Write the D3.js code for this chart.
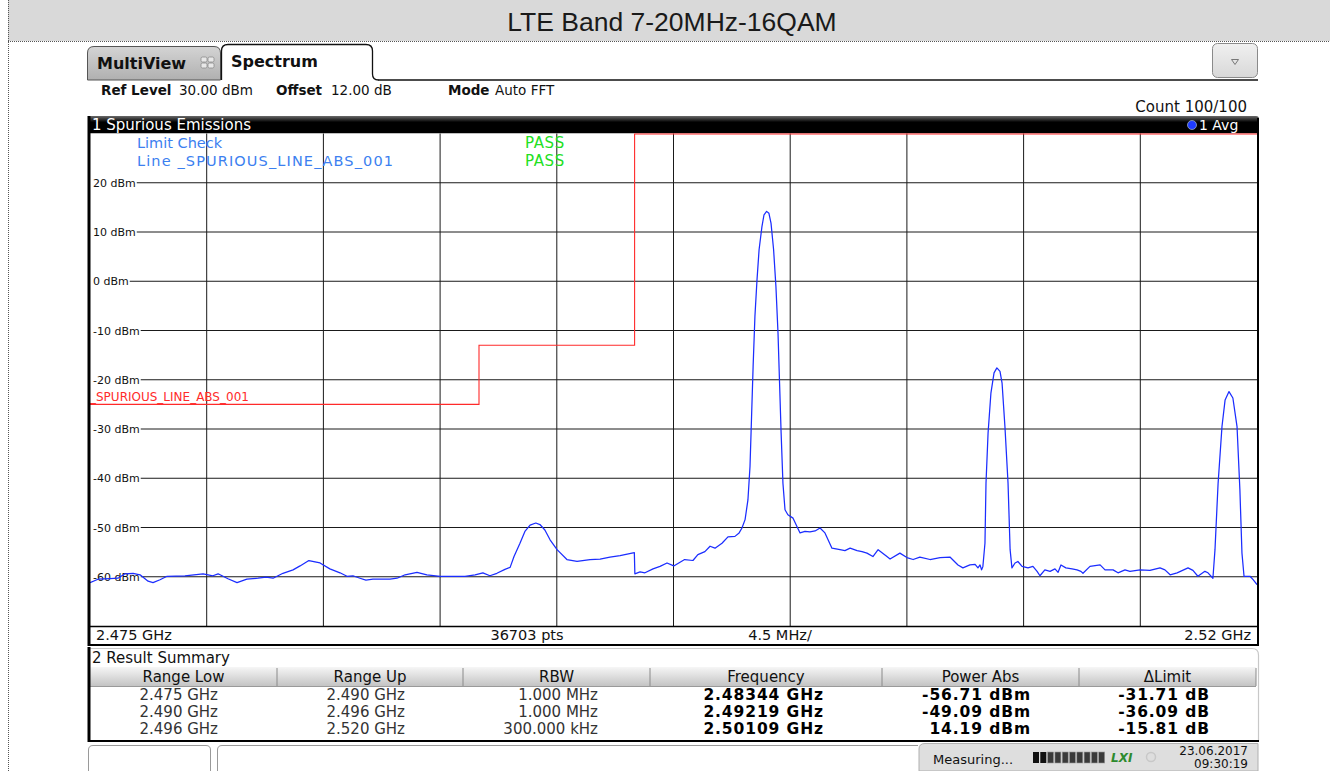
<!DOCTYPE html>
<html>
<head>
<meta charset="utf-8">
<script src="https://cdn.jsdelivr.net/npm/d3@7"></script>
<style>
  html, body { margin: 0; padding: 0; background: #ffffff; }
  svg { display: block; }
  text { font-family: "DejaVu Sans", Verdana, sans-serif; }
</style>
</head>
<body>
<svg id="chart" width="1330" height="771"></svg>
<script>
// ---- Sweep setup ----
const startMHz = 2475;
const stopMHz = 2520;
const refLevel = 30;        // dBm, top of the display
const bottomLevel = -70;    // dBm, bottom of the display
const levelTicks = [20, 10, 0, -10, -20, -30, -40, -50, -60];
const freqDivisions = [2479.5, 2484, 2488.5, 2493, 2497.5, 2502, 2506.5, 2511, 2515.5];

// ---- Trace 1 (average), frequency in MHz, level in dBm ----
const traceFreq = [
  2475.00,2475.31,2475.77,2476.08,2476.35,2476.66,2476.93,2477.24,2477.43,2477.70,
  2477.97,2478.66,2479.36,2479.74,2479.94,2480.32,2480.67,2481.05,2481.48,2481.79,
  2482.06,2482.44,2482.83,2483.10,2483.44,2483.87,2484.25,2484.64,2484.91,2485.14,
  2485.41,2485.64,2485.91,2486.57,2486.84,2487.15,2487.61,2487.99,2488.50,2489.46,
  2489.85,2490.15,2490.42,2490.69,2491.00,2491.20,2491.35,2491.58,2491.77,2491.97,
  2492.19,2492.35,2492.54,2492.74,2493.01,2493.39,2493.78,2494.28,2494.67,2495.05,
  2495.44,2495.99,2496.01,2496.21,2496.40,2496.71,2496.98,2497.25,2497.51,2497.93,
  2498.25,2498.44,2498.71,2498.91,2499.10,2499.37,2499.60,2499.87,2500.03,2500.14,
  2500.26,2500.37,2500.45,2500.51,2500.57,2500.64,2500.72,2500.80,2500.91,2500.99,
  2501.09,2501.18,2501.26,2501.36,2501.45,2501.53,2501.59,2501.65,2501.72,2501.80,
  2501.91,2502.11,2502.26,2502.38,2502.57,2502.76,2502.96,2503.15,2503.34,2503.46,
  2503.61,2503.92,2504.11,2504.31,2504.58,2504.77,2504.96,2505.19,2505.39,2505.73,
  2505.85,2506.23,2506.50,2506.74,2507.00,2507.39,2507.78,2508.16,2508.47,2508.66,
  2508.93,2509.13,2509.24,2509.32,2509.38,2509.43,2509.51,2509.55,2509.63,2509.74,
  2509.86,2509.97,2510.09,2510.17,2510.28,2510.40,2510.48,2510.55,2510.67,2510.78,
  2510.94,2511.17,2511.36,2511.52,2511.63,2511.82,2512.02,2512.21,2512.33,2512.44,
  2512.63,2512.87,2513.06,2513.21,2513.29,2513.56,2513.95,2514.14,2514.45,2514.64,
  2514.91,2515.10,2515.49,2515.87,2516.26,2516.45,2516.65,2516.92,2517.34,2517.53,
  2517.72,2517.99,2518.11,2518.30,2518.38,2518.50,2518.65,2518.77,2518.92,2519.07,
  2519.23,2519.34,2519.42,2519.50,2519.73,2519.85,2520.00
];
const traceLevel = [
  -61.2,-60.5,-60.4,-60.3,-59.4,-59.3,-59.6,-60.9,-61.2,-60.6,
  -59.9,-59.8,-59.4,-59.8,-59.4,-60.4,-61.2,-60.5,-60.3,-60.1,
  -60.3,-59.3,-58.6,-57.8,-56.71,-57.2,-58.4,-59.2,-59.9,-59.8,
  -60.3,-60.7,-60.5,-60.5,-60.3,-59.6,-59.1,-59.6,-59.9,-59.9,
  -59.6,-59.2,-59.8,-59.3,-58.5,-58.1,-55.9,-53.2,-50.8,-49.5,
  -49.09,-49.4,-50.5,-52.5,-54.5,-56.5,-56.9,-56.5,-56.4,-56.0,
  -55.7,-55.1,-59.4,-59.0,-59.2,-58.4,-57.9,-57.2,-57.8,-56.5,
  -56.7,-55.5,-54.9,-53.8,-54.2,-53.2,-51.9,-51.8,-51.1,-50.1,
  -48.4,-44.4,-37.6,-27.5,-17.3,-7.1,0.3,6.4,11.1,13.5,
  14.19,13.8,11.8,6.4,-1.1,-10.5,-20.7,-30.8,-41.0,-46.4,
  -47.4,-48.1,-49.8,-51.1,-50.8,-50.9,-50.7,-50.1,-51.1,-52.5,
  -54.2,-54.5,-54.7,-54.2,-54.7,-54.9,-55.2,-55.9,-54.5,-55.9,
  -56.4,-55.2,-56.1,-56.5,-56.0,-56.5,-56.1,-56.0,-57.6,-58.2,
  -57.6,-57.5,-58.2,-57.6,-58.6,-57.9,-53.2,-41.0,-30.8,-22.7,
  -18.6,-17.6,-18.3,-20.7,-29.5,-41.0,-54.5,-58.2,-57.2,-56.9,
  -57.9,-58.2,-57.9,-58.9,-59.8,-58.6,-58.9,-58.4,-59.1,-57.6,
  -58.2,-58.4,-58.6,-58.9,-59.3,-57.9,-57.6,-58.6,-58.6,-59.2,
  -58.6,-58.9,-58.6,-58.7,-58.2,-58.6,-59.6,-59.2,-58.2,-58.7,
  -59.9,-58.9,-59.2,-60.3,-54.5,-41.0,-29.5,-24.1,-22.4,-23.7,
  -29.5,-42.3,-55.2,-59.9,-59.9,-60.6,-61.6
];
if (traceFreq.length !== traceLevel.length) {
  throw new Error("trace arrays differ: " + traceFreq.length + " vs " + traceLevel.length);
}

// ---- Limit line _SPURIOUS_LINE_ABS_001 ----
const limitFreq  = [2475, 2490, 2490, 2496, 2496, 2520];
const limitLevel = [-25, -25, -13, -13, 30, 30];

// ---- Result summary table ----
const tableHeaders = ["Range Low", "Range Up", "RBW", "Frequency", "Power Abs", "\u0394Limit"];
const rangeLow  = ["2.475 GHz", "2.490 GHz", "2.496 GHz"];
const rangeUp   = ["2.490 GHz", "2.496 GHz", "2.520 GHz"];
const rbw       = ["1.000 MHz", "1.000 MHz", "300.000 kHz"];
const peakFreq  = ["2.48344 GHz", "2.49219 GHz", "2.50109 GHz"];
const powerAbs  = [-56.71, -49.09, 14.19];
const deltaLimit = [-31.71, -36.09, -15.81];

// ---- Layout ----
const svg = d3.select("#chart");
const plot = { left: 90, right: 1257, top: 133.5, bottom: 626 };

const x = d3.scaleLinear().domain([startMHz, stopMHz]).range([plot.left, plot.right]);
const y = d3.scaleLinear().domain([bottomLevel, refLevel]).range([plot.bottom, plot.top]);

const defs = svg.append("defs");
function vGrad(id, stops) {
  const g = defs.append("linearGradient").attr("id", id).attr("x1", 0).attr("y1", 0).attr("x2", 0).attr("y2", 1);
  stops.forEach(s => g.append("stop").attr("offset", s[0]).attr("stop-color", s[1]));
}
vGrad("gTab", [["0%", "#d4d4d4"], ["100%", "#b0b0b0"]]);
vGrad("gBar", [["0%", "#6a6a6a"], ["35%", "#000000"], ["100%", "#000000"]]);
vGrad("gHead", [["0%", "#f6f6f6"], ["100%", "#c4c4c4"]]);
vGrad("gBtn", [["0%", "#f0f0f0"], ["100%", "#d8d8d8"]]);
defs.append("clipPath").attr("id", "plotClip")
  .append("rect").attr("x", plot.left).attr("y", plot.top - 1).attr("width", plot.right - plot.left).attr("height", plot.bottom - plot.top + 1);

// ---- Title band ----
svg.append("rect").attr("x", 8).attr("y", 0).attr("width", 1322).attr("height", 41).attr("fill", "#d9d9d9");
svg.append("line").attr("x1", 8).attr("x2", 1330).attr("y1", 41.5).attr("y2", 41.5)
  .attr("stroke", "#555").attr("stroke-dasharray", "1,1");
svg.append("line").attr("x1", 8.5).attr("x2", 8.5).attr("y1", 0).attr("y2", 771)
  .attr("stroke", "#555").attr("stroke-dasharray", "1,1");
svg.append("text").attr("x", 672).attr("y", 31).attr("text-anchor", "middle")
  .style("font-family", "'Liberation Sans', Arial, sans-serif").style("font-size", "26.5px").attr("fill", "#1a1a1a")
  .text("LTE Band 7-20MHz-16QAM");

// ---- Tabs ----
svg.append("path")
  .attr("d", "M87.5,80 L87.5,53 Q87.5,46.5 94,46.5 L214,46.5 Q220.5,46.5 220.5,53 L220.5,80 Z")
  .attr("fill", "url(#gTab)").attr("stroke", "#555").attr("stroke-width", 1);
svg.append("text").attr("x", 97).attr("y", 69).style("font-size", "16px").style("font-weight", "bold")
  .attr("fill", "#111").text("MultiView");
const icon = svg.append("g").attr("transform", "translate(201,57)");
[[0,0],[7,0],[0,6],[7,6]].forEach(p => {
  icon.append("rect").attr("x", p[0]).attr("y", p[1]).attr("width", 6).attr("height", 5).attr("rx", 1.5)
    .attr("fill", "#e8e8e8").attr("stroke", "#8a8a8a").attr("stroke-width", 0.8);
});
svg.append("path")
  .attr("d", "M221.5,80 L221.5,51 Q221.5,44.5 228,44.5 L366,44.5 Q372.5,44.5 372.5,51 L372.5,74 Q372.5,80 378.5,80")
  .attr("fill", "#ffffff").attr("stroke", "#111").attr("stroke-width", 1.3);
svg.append("text").attr("x", 231).attr("y", 67).style("font-size", "16px").style("font-weight", "bold")
  .attr("fill", "#111").text("Spectrum");
svg.append("line").attr("x1", 378).attr("x2", 1258).attr("y1", 80).attr("y2", 80)
  .attr("stroke", "#111").attr("stroke-width", 1.5);
svg.append("rect").attr("x", 1212.5).attr("y", 43.5).attr("width", 45).attr("height", 34).attr("rx", 5)
  .attr("fill", "url(#gBtn)").attr("stroke", "#8a8a8a");
svg.append("path").attr("d", "M1231.5,59.5 L1238.5,59.5 L1235,64.5 Z").attr("fill", "none").attr("stroke", "#777");

// ---- Settings row ----
function settingPair(xLabel, label, xValue, value) {
  svg.append("text").attr("x", xLabel).attr("y", 95).style("font-size", "13.5px").style("font-weight", "bold")
    .attr("fill", "#111").text(label);
  svg.append("text").attr("x", xValue).attr("y", 95).style("font-size", "13.5px")
    .attr("fill", "#111").text(value);
}
settingPair(101, "Ref Level", 179, "30.00 dBm");
settingPair(276, "Offset", 331, "12.00 dB");
settingPair(448, "Mode", 495, "Auto FFT");
svg.append("text").attr("x", 1247).attr("y", 112).attr("text-anchor", "end").style("font-size", "15px")
  .attr("fill", "#111").text("Count 100/100");

// ---- Diagram title bar ----
svg.append("path")
  .attr("d", "M88,133.5 L88,119 Q88,116 91,116 L1256,116 Q1259,116 1259,119 L1259,133.5 Z")
  .attr("fill", "url(#gBar)");
svg.append("text").attr("x", 92).attr("y", 130).style("font-size", "15px").attr("fill", "#fff")
  .text("1 Spurious Emissions");
svg.append("circle").attr("cx", 1192).attr("cy", 125).attr("r", 4.5).attr("fill", "#1f3cff").attr("stroke", "#9ab").attr("stroke-width", 0.8);
svg.append("text").attr("x", 1199).attr("y", 130).style("font-size", "14px").attr("fill", "#fff").text("1 Avg");

// ---- Plot background ----
svg.append("rect").attr("x", plot.left).attr("y", plot.top).attr("width", plot.right - plot.left)
  .attr("height", plot.bottom - plot.top).attr("fill", "#fff");

// Vertical divisions
svg.append("g").selectAll("line").data(freqDivisions).join("line")
  .attr("x1", d => x(d)).attr("x2", d => x(d)).attr("y1", plot.top).attr("y2", plot.bottom)
  .attr("stroke", "#1a1a1a").attr("stroke-width", 1);

// Horizontal divisions with level labels
const levelG = svg.append("g");
levelTicks.forEach(v => {
  const yy = y(v);
  const lbl = levelG.append("text").attr("x", 93).attr("y", yy + 4).style("font-size", "11px")
    .attr("fill", "#111").text(v + " dBm");
  const w = lbl.node().getComputedTextLength();
  levelG.append("line").attr("x1", 93 + w + 1).attr("x2", plot.right).attr("y1", yy).attr("y2", yy)
    .attr("stroke", "#1a1a1a").attr("stroke-width", 1);
});

// Limit line
const limitPts = limitFreq.map((f, i) => [f, limitLevel[i]]);
svg.append("path").datum(limitPts)
  .attr("d", d3.line().x(d => x(d[0])).y(d => Math.max(y(d[1]), plot.top + 0.5)))
  .attr("fill", "none").attr("stroke", "#ff2a2a").attr("stroke-width", 1.1);
svg.append("text").attr("x", 90).attr("y", y(-25) - 3).style("font-size", "12px").attr("fill", "#ff2a2a")
  .text("_SPURIOUS_LINE_ABS_001");

// Limit check result
svg.append("text").attr("x", 137).attr("y", 148).style("font-size", "14.5px").attr("fill", "#3c7ff0").text("Limit Check");
svg.append("text").attr("x", 137).attr("y", 166).style("font-size", "14.5px").attr("fill", "#3c7ff0")
  .attr("textLength", 256).attr("lengthAdjust", "spacing").text("Line _SPURIOUS_LINE_ABS_001");
svg.append("text").attr("x", 525).attr("y", 148).style("font-size", "15px").attr("fill", "#22e022").attr("letter-spacing", "0.6").text("PASS");
svg.append("text").attr("x", 525).attr("y", 166).style("font-size", "15px").attr("fill", "#22e022").attr("letter-spacing", "0.6").text("PASS");

// Trace
const tracePts = traceFreq.map((f, i) => [f, traceLevel[i]]);
svg.append("path").datum(tracePts)
  .attr("clip-path", "url(#plotClip)")
  .attr("d", d3.line().x(d => x(d[0])).y(d => y(d[1])))
  .attr("fill", "none").attr("stroke", "#1b2dff").attr("stroke-width", 1.25).attr("stroke-linejoin", "round");

// Frame
svg.append("line").attr("x1", 89).attr("x2", 89).attr("y1", 116).attr("y2", 646).attr("stroke", "#000").attr("stroke-width", 3);
svg.append("line").attr("x1", 1258).attr("x2", 1258).attr("y1", 118).attr("y2", 646).attr("stroke", "#000").attr("stroke-width", 2);
svg.append("line").attr("x1", 88).attr("x2", 1259).attr("y1", plot.bottom + 0.5).attr("y2", plot.bottom + 0.5).attr("stroke", "#000").attr("stroke-width", 1.5);
svg.append("line").attr("x1", 88).attr("x2", 1259).attr("y1", 645).attr("y2", 645).attr("stroke", "#000").attr("stroke-width", 2);

// Axis annotation row
const axisRowY = 640;
svg.append("text").attr("x", 96).attr("y", axisRowY).style("font-size", "14.5px").attr("fill", "#111").text((startMHz / 1000).toFixed(3) + " GHz");
svg.append("text").attr("x", 527).attr("y", axisRowY).attr("text-anchor", "middle").style("font-size", "14.5px").attr("fill", "#111").text("36703 pts");
svg.append("text").attr("x", 780).attr("y", axisRowY).attr("text-anchor", "middle").style("font-size", "14.5px").attr("fill", "#111").text(((stopMHz - startMHz) / 10) + " MHz/");
svg.append("text").attr("x", 1251).attr("y", axisRowY).attr("text-anchor", "end").style("font-size", "14.5px").attr("fill", "#111").text((stopMHz / 1000) + " GHz");

// ---- Result summary ----
svg.append("path").attr("d", "M89,648.5 L1252,648.5 Q1258.5,648.5 1258.5,655 L1258.5,741")
  .attr("fill", "none").attr("stroke", "#c8c8c8").attr("stroke-width", 1.2);
svg.append("text").attr("x", 92).attr("y", 663).style("font-size", "15px").attr("fill", "#111").text("2 Result Summary");
svg.append("rect").attr("x", 90).attr("y", 667).attr("width", 1166).attr("height", 19).attr("fill", "url(#gHead)");
svg.append("line").attr("x1", 90).attr("x2", 1256).attr("y1", 686.5).attr("y2", 686.5).attr("stroke", "#9a9a9a");

const colEdges = [90, 277, 463, 650, 882, 1079, 1256];
svg.append("g").selectAll("line").data(colEdges.slice(1)).join("line")
  .attr("x1", d => d).attr("x2", d => d).attr("y1", 668).attr("y2", 686)
  .attr("stroke", "#8a8a8a").attr("stroke-width", 1);
svg.append("g").selectAll("text").data(tableHeaders).join("text")
  .attr("x", (d, i) => (colEdges[i] + colEdges[i + 1]) / 2).attr("y", 682)
  .attr("text-anchor", "middle").style("font-size", "15px").attr("fill", "#111").text(d => d);

const rowBase = [700, 717, 734];
const colRight = [218, 405, 598, 824, 1031, 1210];
const columns = [
  { vals: rangeLow, bold: false },
  { vals: rangeUp, bold: false },
  { vals: rbw, bold: false },
  { vals: peakFreq, bold: true },
  { vals: powerAbs.map(v => v.toFixed(2) + " dBm"), bold: true },
  { vals: deltaLimit.map(v => v.toFixed(2) + " dB"), bold: true }
];
columns.forEach((col, ci) => {
  col.vals.forEach((v, ri) => {
    svg.append("text").attr("x", colRight[ci]).attr("y", rowBase[ri]).attr("text-anchor", "end")
      .style("font-size", col.bold ? "15.5px" : "15px").style("font-weight", col.bold ? "bold" : "normal")
      .attr("letter-spacing", col.bold ? "0.9" : "0")
      .attr("fill", col.bold ? "#000" : "#333").text(v);
  });
});
svg.append("line").attr("x1", 89).attr("x2", 89).attr("y1", 647).attr("y2", 742).attr("stroke", "#000").attr("stroke-width", 3);
svg.append("line").attr("x1", 88).attr("x2", 1259).attr("y1", 741).attr("y2", 741).attr("stroke", "#000").attr("stroke-width", 2);

// ---- Status bar ----
svg.append("path").attr("d", "M88.5,771 L88.5,750 Q88.5,745.5 93,745.5 L206,745.5 Q210.5,745.5 210.5,750 L210.5,771")
  .attr("fill", "#fff").attr("stroke", "#9a9a9a");
svg.append("path").attr("d", "M217.5,771 L217.5,750 Q217.5,745.5 222,745.5 L918,745.5")
  .attr("fill", "#fff").attr("stroke", "#9a9a9a");
svg.append("path").attr("d", "M919,771 L919,749 Q919,743.5 925,743.5 L1258,743.5 L1258,771 Z")
  .attr("fill", "#dedede").attr("stroke", "#b0b0b0");
svg.append("text").attr("x", 933).attr("y", 764).style("font-size", "13px").attr("fill", "#111").text("Measuring...");
const prog = svg.append("g").attr("transform", "translate(1033,752)");
d3.range(10).forEach(i => {
  prog.append("rect").attr("x", i * 7.3).attr("y", 0).attr("width", 6).attr("height", 11)
    .attr("fill", i < 2 ? "#111" : "#3a3a3a").attr("stroke", i < 2 ? "none" : "#9a9a9a").attr("stroke-width", 0.6);
});
svg.append("text").attr("x", 1111).attr("y", 762).style("font-size", "12px").style("font-weight", "bold")
  .style("font-style", "italic").attr("fill", "#2d8a2d").text("LXI");
svg.append("circle").attr("cx", 1151).attr("cy", 757).attr("r", 4.5).attr("fill", "none").attr("stroke", "#c8c8c8").attr("stroke-width", 1.5);
svg.append("text").attr("x", 1248).attr("y", 755).attr("text-anchor", "end").style("font-size", "12px").attr("fill", "#111").text("23.06.2017");
svg.append("text").attr("x", 1248).attr("y", 768).attr("text-anchor", "end").style("font-size", "12px").attr("fill", "#111").text("09:30:19");
</script>
</body>
</html>
